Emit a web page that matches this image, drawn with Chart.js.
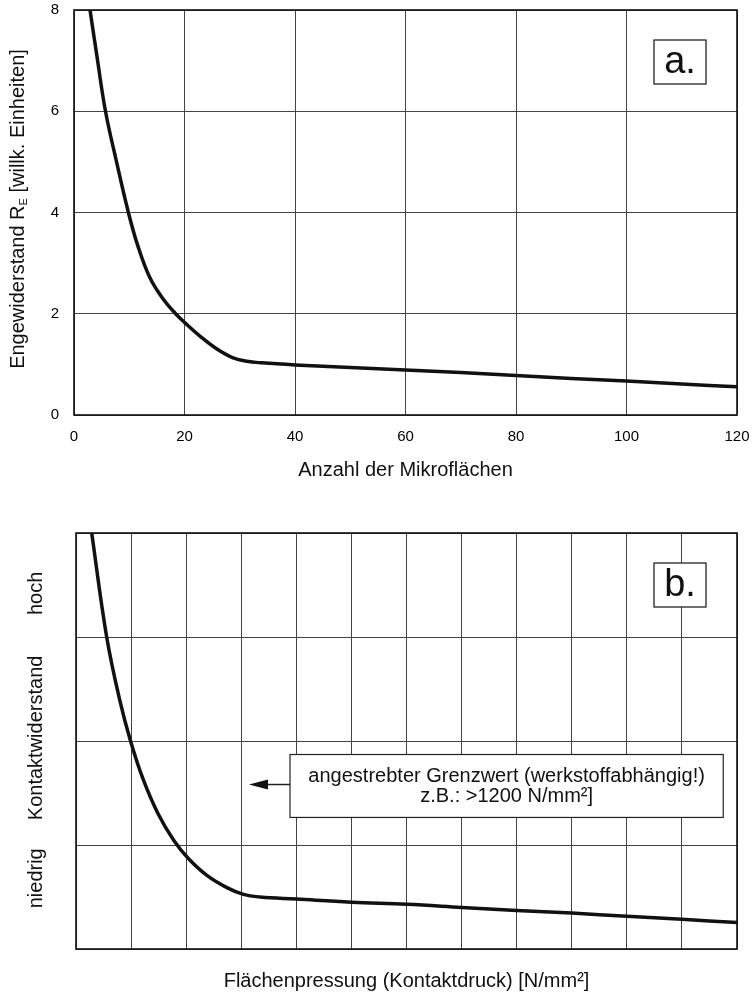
<!DOCTYPE html>
<html>
<head>
<meta charset="utf-8">
<script src="https://cdn.jsdelivr.net/npm/chart.js@4.4.1/dist/chart.umd.min.js"></script>
<style>
    html, body { margin: 0; padding: 0; background: #fff; }
    #wrapA { position: absolute; left: 0; top: 0; }
    #wrapB { position: absolute; left: 0; top: 500px; }
</style>
</head>
<body>
<div id="wrapA"><canvas id="chartA" width="754" height="500"></canvas></div>
<div id="wrapB"><canvas id="chartB" width="754" height="493"></canvas></div>
<script>
// --- chart a: Engewiderstand vs. Anzahl der Mikroflächen ---
const microAreas = [2.9, 4.2, 5.7, 7.7, 9.8, 11.5, 13.7, 16.2, 18.4, 20.1, 22.8, 25.8, 28.8, 31.3, 34, 40, 50, 60, 70, 80, 90, 100, 110, 120];
const constrictionRes = [8, 7.05, 6.0, 5.0, 4.02, 3.36, 2.72, 2.28, 2.0, 1.82, 1.56, 1.31, 1.13, 1.06, 1.03, 0.99, 0.94, 0.89, 0.84, 0.78, 0.72, 0.67, 0.61, 0.56];
const xTicksA = [0, 20, 40, 60, 80, 100, 120];
const yTicksA = [0, 2, 4, 6, 8];

// --- chart b: Kontaktwiderstand vs. Flächenpressung (no numeric scale) ---
const pressure = [0.285, 0.557, 0.8, 0.99, 1.22, 1.49, 1.78, 2.04, 2.37, 2.74, 3.04, 3.34, 4, 5, 6, 7, 8, 9, 10, 11, 12];
const contactRes = [4.0, 3.0, 2.38, 2.0, 1.63, 1.30, 1.04, 0.87, 0.71, 0.59, 0.525, 0.50, 0.48, 0.45, 0.43, 0.40, 0.37, 0.345, 0.315, 0.285, 0.255];
const levelLabels = ['niedrig', 'Kontaktwiderstand', 'hoch'];
const noteLines = ['angestrebter Grenzwert (werkstoffabhängig!)', 'z.B.: >1200 N/mm²]'];

const FONT = '"Liberation Sans", Arial, sans-serif';
Chart.defaults.font.family = FONT;
Chart.defaults.color = '#111';

function toPoints(xs, ys) {
    return xs.map((x, i) => ({ x: x, y: ys[i] }));
}

// keep the layout padding in charge of the plot edges
function clearScalePadding(scale) {
    scale.paddingTop = 0;
    scale.paddingBottom = 0;
    scale.paddingLeft = 0;
    scale.paddingRight = 0;
}

// Frame round the plot area + a small letter box in the upper right
function frameAndTag(tag) {
    return {
        id: 'frameAndTag',
        afterDraw(chart) {
            const ctx = chart.ctx;
            const a = chart.chartArea;
            ctx.save();
            ctx.strokeStyle = '#111';
            ctx.lineWidth = 1.6;
            ctx.strokeRect(a.left, a.top, a.right - a.left, a.bottom - a.top);

            const w = 52, h = 44;
            const bx = a.right - 31 - w;
            const by = a.top + 30;
            ctx.fillStyle = '#fff';
            ctx.fillRect(bx, by, w, h);
            ctx.lineWidth = 1.2;
            ctx.strokeRect(bx, by, w, h);
            ctx.fillStyle = '#111';
            ctx.font = '38px ' + FONT;
            ctx.textAlign = 'center';
            ctx.textBaseline = 'middle';
            ctx.fillText(tag, bx + w / 2, by + h / 2 + 1);
            ctx.restore();
        }
    };
}

// y title of chart a, with subscript E
const yTitleA = {
    id: 'yTitleA',
    afterDraw(chart) {
        const ctx = chart.ctx;
        const parts = [
            { t: 'Engewiderstand R', size: 20, dy: 0 },
            { t: 'E', size: 11, dy: 6 },
            { t: ' [willk. Einheiten]', size: 20, dy: 0 }
        ];
        ctx.save();
        ctx.translate(18, 209);
        ctx.rotate(-Math.PI / 2);
        ctx.fillStyle = '#111';
        ctx.textBaseline = 'middle';
        ctx.textAlign = 'left';
        let total = 0;
        parts.forEach(p => {
            ctx.font = p.size + 'px ' + FONT;
            p.w = ctx.measureText(p.t).width;
            total += p.w;
        });
        let x = -total / 2;
        parts.forEach(p => {
            ctx.font = p.size + 'px ' + FONT;
            ctx.fillText(p.t, x, p.dy);
            x += p.w;
        });
        ctx.restore();
    }
};

// rotated level words on the y side of chart b
const yLevelsB = {
    id: 'yLevelsB',
    afterDraw(chart) {
        const ctx = chart.ctx;
        const y = chart.scales.y;
        const at = [0.68, 2.03, 3.42];
        ctx.save();
        ctx.fillStyle = '#111';
        ctx.font = '20px ' + FONT;
        ctx.textAlign = 'center';
        ctx.textBaseline = 'middle';
        levelLabels.forEach((label, i) => {
            ctx.save();
            ctx.translate(36, y.getPixelForValue(at[i]));
            ctx.rotate(-Math.PI / 2);
            ctx.fillText(label, 0, 0);
            ctx.restore();
        });
        ctx.restore();
    }
};

// note box with arrow pointing left
const noteB = {
    id: 'noteB',
    afterDatasetsDraw(chart) {
        const ctx = chart.ctx;
        const xs = chart.scales.x, ys = chart.scales.y;
        const left = xs.getPixelForValue(3.885);
        const right = xs.getPixelForValue(11.75);
        const top = ys.getPixelForValue(1.87);
        const bottom = ys.getPixelForValue(1.265);
        ctx.save();
        ctx.fillStyle = '#fff';
        ctx.fillRect(left, top, right - left, bottom - top);
        ctx.strokeStyle = '#222';
        ctx.lineWidth = 1.2;
        ctx.strokeRect(left, top, right - left, bottom - top);

        // arrow
        const ay = top + 30;
        ctx.lineWidth = 1.5;
        ctx.beginPath();
        ctx.moveTo(left, ay);
        ctx.lineTo(left - 22, ay);
        ctx.stroke();
        ctx.fillStyle = '#111';
        ctx.beginPath();
        ctx.moveTo(left - 41, ay);
        ctx.lineTo(left - 22, ay - 5);
        ctx.lineTo(left - 22, ay + 5);
        ctx.closePath();
        ctx.fill();

        ctx.font = '20px ' + FONT;
        ctx.textAlign = 'center';
        ctx.textBaseline = 'middle';
        const cx = (left + right) / 2;
        ctx.fillText(noteLines[0], cx, top + 22);
        ctx.fillText(noteLines[1], cx, top + 42);
        ctx.restore();
    }
};

const gridStyle = { color: '#444', lineWidth: 1, drawTicks: false };

new Chart(document.getElementById('chartA'), {
    type: 'line',
    data: {
        datasets: [{
            data: toPoints(microAreas, constrictionRes),
            borderColor: '#111',
            borderWidth: 3.5,
            pointRadius: 0,
            tension: 0.4,
            fill: false
        }]
    },
    options: {
        responsive: false,
        animation: false,
        layout: { padding: { top: 10, right: 17, left: 0, bottom: 0 } },
        plugins: { legend: { display: false }, tooltip: { enabled: false } },
        scales: {
            x: {
                type: 'linear',
                min: 0, max: 120,
                afterBuildTicks: scale => { scale.ticks = xTicksA.map(v => ({ value: v })); },
                afterFit: scale => { scale.height = 85; clearScalePadding(scale); },
                grid: gridStyle,
                border: { display: false },
                ticks: { padding: 13, font: { size: 15 }, maxRotation: 0, color: '#000' },
                title: {
                    display: true,
                    text: 'Anzahl der Mikroflächen',
                    font: { size: 20 },
                    padding: { top: 0, bottom: 18 }
                }
            },
            y: {
                min: 0, max: 8,
                afterBuildTicks: scale => { scale.ticks = yTicksA.map(v => ({ value: v })); },
                afterFit: scale => { scale.width = 74; clearScalePadding(scale); },
                grid: gridStyle,
                border: { display: false },
                ticks: { padding: 15, font: { size: 15 }, color: '#000' }
            }
        }
    },
    plugins: [frameAndTag('a.'), yTitleA]
});

new Chart(document.getElementById('chartB'), {
    type: 'line',
    data: {
        datasets: [{
            data: toPoints(pressure, contactRes),
            borderColor: '#111',
            borderWidth: 3.5,
            pointRadius: 0,
            tension: 0.4,
            fill: false
        }]
    },
    options: {
        responsive: false,
        animation: false,
        layout: { padding: { top: 33, right: 17, left: 0, bottom: 0 } },
        plugins: { legend: { display: false }, tooltip: { enabled: false } },
        scales: {
            x: {
                type: 'linear',
                min: 0, max: 12,
                afterFit: scale => { scale.height = 44; clearScalePadding(scale); },
                grid: gridStyle,
                border: { display: false },
                ticks: { display: false, stepSize: 1 },
                title: {
                    display: true,
                    text: 'Flächenpressung (Kontaktdruck) [N/mm²]',
                    font: { size: 20 },
                    padding: { top: 0, bottom: 0 }
                }
            },
            y: {
                min: 0, max: 4,
                afterFit: scale => { scale.width = 76; clearScalePadding(scale); },
                grid: gridStyle,
                border: { display: false },
                ticks: { display: false, stepSize: 1 }
            }
        }
    },
    plugins: [frameAndTag('b.'), yLevelsB, noteB]
});
</script>
</body>
</html>
